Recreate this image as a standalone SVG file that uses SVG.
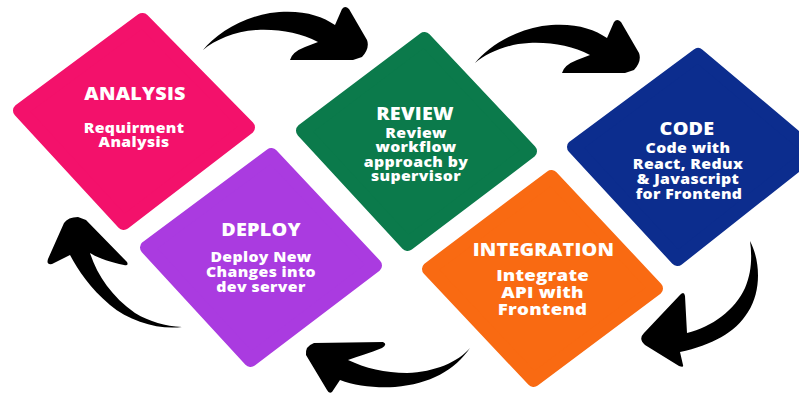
<svg xmlns="http://www.w3.org/2000/svg" xmlns:xlink="http://www.w3.org/1999/xlink" width="799" height="394" viewBox="0 0 799 394">
<style>
.card{stroke-width:14;stroke-linejoin:round}
.t{font-family:"Open Sans","DejaVu Sans",sans-serif;font-weight:800;fill:#fff;text-anchor:middle}
.h{font-size:17.5px;letter-spacing:0.2px}
.s{font-size:14px;letter-spacing:0.3px}
.s2{font-size:16.5px;letter-spacing:0.2px}
.arr{fill:#000}
</style>
<defs>
<path id="arrowA" d="M203,50 C215,35 240,18 270,13 C300,9 320,15 335,25 L342,9 Q345,5 349,9 L367,40 Q370,48 362,57 L353,60 L290,60 Q292,52 305,47 L318,42 C300,33 280,29 257,30 C235,31 215,40 203,50 Z"/>
</defs>
<rect width="799" height="394" fill="#fff"/>
<g id="analysis">
<polygon class="card" fill="#F3116B" stroke="#F3116B" points="142.4,20 248,127.5 123.7,223 20,110.6"/>
<g transform="translate(134,0) scale(1.13,1)">
<text class="t h" x="0.9" y="100">ANALYSIS</text>
<text class="t s" x="0" y="133">Requirment</text>
<text class="t s" x="0" y="147.5">Analysis</text>
</g>
</g>
<g id="review">
<polygon class="card" fill="#0B7A4B" stroke="#0B7A4B" points="424.4,39 530,151.2 407.6,244 303,130.7"/>
<g transform="translate(416,0) scale(1.13,1)">
<text class="t h" x="-0.9" y="120">REVIEW</text>
<text class="t s" x="0" y="138">Review</text>
<text class="t s" x="0" y="152.5">workflow</text>
<text class="t s" x="0" y="167">approach by</text>
<text class="t s" x="0" y="181.5">supervisor</text>
</g>
</g>
<g id="code">
<polygon class="card" fill="#0C2D8E" stroke="#0C2D8E" points="698,55 813,152 677.5,259 574,147"/>
<g transform="translate(688,0) scale(1.13,1)">
<text class="t h" x="-0.9" y="135">CODE</text>
<text class="t s" x="0" y="153.5">Code with</text>
<text class="t s" x="0" y="169">React, Redux</text>
<text class="t s" x="0" y="184">&amp; Javascript</text>
<text class="t s" x="0.9" y="199">for Frontend</text>
</g>
</g>
<g id="integration">
<polygon class="card" fill="#F96A12" stroke="#F96A12" points="551.4,177 656,288.5 533.6,380 429,269"/>
<g transform="translate(543,0) scale(1.13,1)">
<text class="t h" x="0.4" y="256">INTEGRATION</text>
<text class="t s2" x="-0.4" y="281">Integrate</text>
<text class="t s2" x="-0.4" y="298">API with</text>
<text class="t s2" x="-0.4" y="315">Frontend</text>
</g>
</g>
<g id="deploy">
<polygon class="card" fill="#AA3BE0" stroke="#AA3BE0" points="271.3,155 375,265.5 250.6,360 147,247.5"/>
<g transform="translate(261,0) scale(1.13,1)">
<text class="t h" x="0" y="236">DEPLOY</text>
<text class="t s" x="0" y="262">Deploy New</text>
<text class="t s" x="0" y="277">Changes into</text>
<text class="t s" x="0" y="292">dev server</text>
</g>
</g>
<g id="connectors">
<use class="arr" href="#arrowA" xlink:href="#arrowA"/>
<use class="arr" href="#arrowA" xlink:href="#arrowA" transform="translate(272,13)"/>
<path class="arr" d="M750,241 C760,260 762,290 748,312 C735,333 712,345 680,352 L683,365 Q684,368 679,366 L645,345 Q638,339 644,333 L679,296 Q684,290 685,296 L687,333 C712,327 735,310 745,288 C752,272 752,255 750,241 Z"/>
<path class="arr" d="M470,348 C455,370 430,384 395,387 C375,388 355,386 340,380 L332,392 Q329,394 327,390 L306,355 Q305,346 314,343 L383,342 Q388,344 382,348 C370,353 358,356 348,360 C365,368 385,373 407,373 C435,372 458,362 470,348 Z"/>
<path class="arr" d="M182,327 C160,330 130,322 110,305 C90,288 78,270 70,255 L52,264 Q46,265 48,259 L64,223 Q68,217 78,217 L86,220 L127,262 Q129,266 124,265 C110,262 98,258 90,253 C97,275 112,297 135,313 C150,322 165,326 182,327 Z"/>
</g>
</svg>
